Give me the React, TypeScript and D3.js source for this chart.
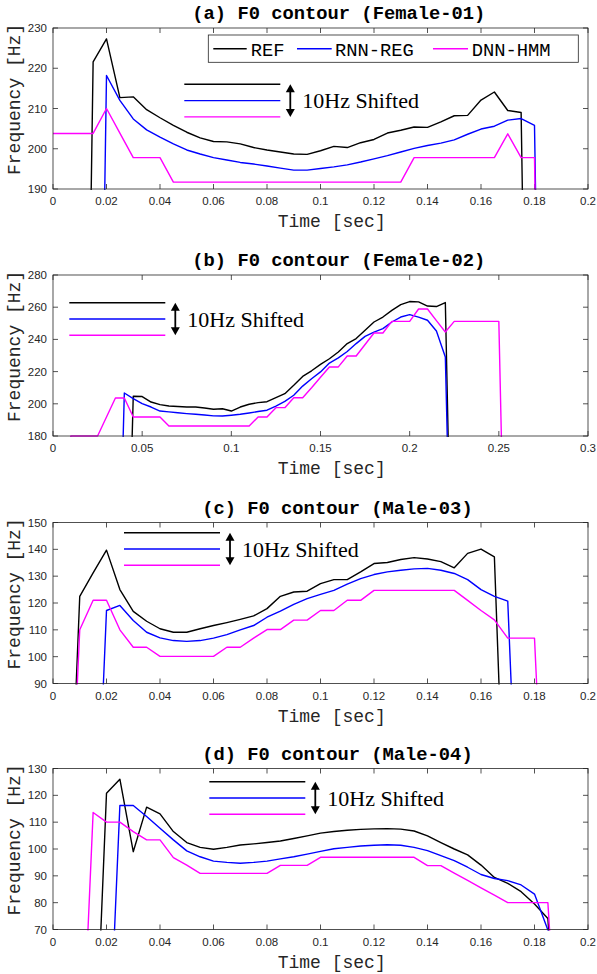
import React from 'react';
import * as d3 from 'd3';

// frame step (sec); unvoiced frames are stored as 0 and fall below the axes
const STEP = 0.005;

// (a) Female-01
const REF_A = [0, 0, 0, 221.6, 227.3, 212.7, 212.9, 209.7, 207.7, 205.8, 204.1, 202.7, 201.8, 201.7, 201.2, 200.3, 199.7, 199.2, 198.7, 198.6, 199.5, 200.6, 200.3, 201.5, 202.3, 203.9, 204.6, 205.4, 205.3, 206.7, 208.2, 208.3, 212.1, 214.1, 209.5, 209.0, 0, 0];
const RNN_A = [0, 0, 0, 0, 218.2, 212.0, 207.4, 204.7, 202.9, 201.2, 199.7, 198.7, 197.8, 197.2, 196.6, 196.2, 195.7, 195.2, 194.7, 194.7, 195.1, 195.5, 196.0, 196.7, 197.5, 198.3, 199.2, 200.1, 200.8, 201.4, 202.2, 203.6, 204.9, 205.6, 207.1, 207.5, 205.8, 0];
const DNN_A = [203.8, 203.8, 203.8, 203.8, 210.0, 203.9, 197.8, 197.8, 197.8, 191.7, 191.7, 191.7, 191.7, 191.7, 191.7, 191.7, 191.7, 191.7, 191.7, 191.7, 191.7, 191.7, 191.7, 191.7, 191.7, 191.7, 191.7, 197.8, 197.8, 197.8, 197.8, 197.8, 197.8, 197.8, 203.7, 197.8, 197.8, 0];

// (b) Female-02
const REF_B = [0, 0, 0, 0, 0, 0, 0, 0, 0, 204.7, 204.5, 201.1, 199.5, 198.6, 198.3, 198.0, 198.0, 197.4, 196.6, 196.9, 195.5, 198.0, 199.7, 200.7, 201.3, 203.8, 206.3, 211.5, 217.0, 220.5, 224.5, 228.0, 232.2, 237.4, 240.5, 245.7, 250.8, 253.9, 258.0, 261.6, 263.5, 263.3, 260.7, 260.4, 262.9, 0];
const RNN_B = [0, 0, 0, 0, 0, 0, 0, 0, 206.7, 203.2, 200.1, 198.0, 195.5, 195.0, 194.4, 193.9, 193.5, 193.0, 192.5, 192.4, 192.9, 193.5, 194.3, 195.2, 196.0, 198.6, 201.5, 205.3, 211.0, 215.6, 219.8, 225.3, 228.5, 232.5, 237.4, 241.9, 244.5, 246.7, 250.8, 253.9, 255.4, 253.8, 251.9, 245.2, 229.1, 0];
const DNN_B = [0, 0, 180, 180, 180, 180, 191.8, 203.6, 203.6, 191.8, 191.8, 191.8, 191.8, 186.2, 186.2, 186.2, 186.2, 186.2, 186.2, 186.2, 186.2, 186.2, 186.2, 191.8, 191.8, 197.6, 197.6, 203.8, 203.8, 210.0, 216.5, 222.9, 222.9, 229.7, 229.7, 236.8, 244.0, 244.0, 251.2, 251.2, 251.2, 258.9, 258.9, 251.7, 244.6, 251.2, 251.2, 251.2, 251.2, 251.2, 251.2, 0];

// (c) Male-03
const REF_C = [0, 0, 122.5, 131.2, 139.7, 125.0, 116.9, 113.2, 110.4, 109.1, 109.1, 110.4, 111.6, 112.7, 113.9, 115.2, 117.9, 122.5, 124.1, 124.4, 127.2, 128.7, 128.7, 131.6, 134.7, 135.1, 136.2, 136.9, 136.4, 135.4, 133.1, 138.5, 140.1, 137.2, 0];
const RNN_C = [0, 0, 0, 0, 117.2, 119.1, 113.5, 109.1, 107.0, 106.0, 105.7, 106.0, 106.9, 108.2, 110.0, 111.6, 114.7, 117.0, 119.5, 121.6, 123.2, 124.7, 127.0, 129.1, 130.6, 131.6, 132.2, 132.7, 132.9, 132.2, 131.0, 128.7, 125.0, 122.5, 120.7, 0];
const DNN_C = [0, 0, 110.0, 121.0, 121.0, 110.0, 103.5, 103.5, 100.1, 100.1, 100.1, 100.1, 100.1, 103.5, 103.5, 106.9, 110.1, 110.1, 113.6, 113.6, 117.2, 117.2, 121.0, 121.0, 124.7, 124.7, 124.7, 124.7, 124.7, 124.7, 124.7, 121.0, 117.2, 113.7, 106.9, 106.9, 106.9, 0];

// (d) Male-04
const REF_D = [0, 0, 0, 0, 120.8, 126.0, 99.0, 115.6, 113.1, 106.5, 102.4, 100.6, 99.9, 100.6, 101.5, 101.9, 102.4, 103.0, 103.9, 104.9, 105.9, 106.5, 107.0, 107.3, 107.5, 107.6, 107.4, 106.7, 104.9, 102.4, 100.0, 97.8, 94.0, 89.4, 87.2, 84.1, 79.5, 74.1, 0];
const RNN_D = [0, 0, 0, 0, 0, 116.2, 116.2, 112.1, 107.7, 103.4, 99.3, 97.1, 95.5, 95.0, 94.7, 95.0, 95.5, 96.3, 97.1, 98.1, 99.1, 100.1, 100.6, 101.1, 101.4, 101.6, 101.4, 100.6, 99.4, 97.5, 95.7, 93.2, 90.5, 89.0, 88.2, 86.6, 83.2, 69.8, 0];
const DNN_D = [0, 0, 0, 113.6, 110.0, 110.0, 106.5, 103.4, 103.4, 96.8, 94.0, 90.9, 90.9, 90.9, 90.9, 90.9, 90.9, 93.9, 93.9, 93.9, 96.9, 96.9, 96.9, 96.9, 96.9, 96.9, 96.9, 96.9, 93.8, 93.8, 91.0, 88.3, 85.5, 82.8, 80.0, 80.0, 80.0, 80.0, 0];

const X_TICKS_02 = [0, 0.02, 0.04, 0.06, 0.08, 0.1, 0.12, 0.14, 0.16, 0.18, 0.2];
const X_TICKS_03 = [0, 0.05, 0.1, 0.15, 0.2, 0.25, 0.3];
const Y_TICKS_A = [190, 200, 210, 220, 230];
const Y_TICKS_B = [180, 200, 220, 240, 260, 280];
const Y_TICKS_C = [90, 100, 110, 120, 130, 140, 150];
const Y_TICKS_D = [70, 80, 90, 100, 110, 120, 130];

const TITLES = ['(a) F0 contour (Female-01)', '(b) F0 contour (Female-02)', '(c) F0 contour (Male-03)', '(d) F0 contour (Male-04)'];
const SERIES_NAMES = ['REF', 'RNN-REG', 'DNN-HMM'];
const COLORS = ['#000000', '#0000ff', '#ff00ff'];
const X_LABEL = 'Time [sec]';
const Y_LABEL = 'Frequency [Hz]';
const SHIFT_NOTE = '10Hz Shifted';

const LEFT = 53;
const RIGHT = 588;
const H = 161;
const AX = '#262626';
const MONO = '"Liberation Mono", "Courier New", monospace';
const SANS = '"Liberation Sans", Helvetica, Arial, sans-serif';
const SERIF = '"Liberation Serif", "Times New Roman", serif';

const PANELS = [
  { top: 28, xTicks: X_TICKS_02, yTicks: Y_TICKS_A, series: [REF_A, RNN_A, DNN_A], title: TITLES[0], ann: { x1: 184.3, y0: 84.3 }, legend: true },
  { top: 275, xTicks: X_TICKS_03, yTicks: Y_TICKS_B, series: [REF_B, RNN_B, DNN_B], title: TITLES[1], ann: { x1: 69.3, y0: 302.7 }, legend: false },
  { top: 522.5, xTicks: X_TICKS_02, yTicks: Y_TICKS_C, series: [REF_C, RNN_C, DNN_C], title: TITLES[2], ann: { x1: 124, y0: 532.7 }, legend: false },
  { top: 768.5, xTicks: X_TICKS_02, yTicks: Y_TICKS_D, series: [REF_D, RNN_D, DNN_D], title: TITLES[3], ann: { x1: 209.3, y0: 781.7 }, legend: false },
];

const fmt = (v: number) => String(+v.toFixed(4));

function Panel({ p, idx }: { p: any; idx: number }) {
  const xs = p.xTicks as number[];
  const ys = p.yTicks as number[];
  const x = d3.scaleLinear().domain([xs[0], xs[xs.length - 1]]).range([LEFT, RIGHT]);
  const y = d3.scaleLinear().domain([ys[0], ys[ys.length - 1]]).range([p.top + H, p.top]);
  const bottom = p.top + H;
  const cy = p.top + H / 2;
  const clipId = `clip-${idx}`;
  const line = d3.line<number>().x((_, i) => x(i * STEP)).y((d) => y(d));
  const tl = 5;
  const a = p.ann;
  const x2 = a.x1 + 96;
  const ax = x2 + 10;
  const gap = 16.3;
  const ay0 = a.y0;
  const ay1 = a.y0 + 2 * gap;
  const hw = 4.5;
  const hh = 8;
  return (
    <g>
      <defs>
        <clipPath id={clipId}>
          <rect x={LEFT} y={p.top - 1} width={RIGHT - LEFT} height={H + 2} />
        </clipPath>
      </defs>
      {/* ticks */}
      {xs.map((t) => (
        <g key={'xt' + t}>
          <line x1={x(t)} x2={x(t)} y1={bottom} y2={bottom - tl} stroke={AX} strokeWidth={0.8} />
          <line x1={x(t)} x2={x(t)} y1={p.top} y2={p.top + tl} stroke={AX} strokeWidth={0.8} />
          <text x={x(t)} y={bottom + 16} textAnchor="middle" fontFamily={SANS} fontSize={11.5} fill={AX}>{fmt(t)}</text>
        </g>
      ))}
      {ys.map((v) => (
        <g key={'yt' + v}>
          <line x1={LEFT} x2={LEFT + tl} y1={y(v)} y2={y(v)} stroke={AX} strokeWidth={0.8} />
          <line x1={RIGHT} x2={RIGHT - tl} y1={y(v)} y2={y(v)} stroke={AX} strokeWidth={0.8} />
          <text x={LEFT - 6} y={y(v) + 4} textAnchor="end" fontFamily={SANS} fontSize={11.5} fill={AX}>{v}</text>
        </g>
      ))}
      {/* data */}
      <g clipPath={`url(#${clipId})`}>
        {(p.series as number[][]).map((s, k) => (
          <path key={k} d={line(s) || ''} fill="none" stroke={COLORS[k]} strokeWidth={1.4} strokeLinejoin="round" />
        ))}
      </g>
      {/* frame */}
      <rect x={LEFT} y={p.top} width={RIGHT - LEFT} height={H} fill="none" stroke={AX} strokeWidth={0.8} />
      {/* shift annotation */}
      {COLORS.map((c, k) => (
        <line key={'an' + k} x1={a.x1} x2={x2} y1={a.y0 + k * gap} y2={a.y0 + k * gap} stroke={c} strokeWidth={1.4} />
      ))}
      <line x1={ax} x2={ax} y1={ay0 + hh - 1} y2={ay1 - hh + 1} stroke="#000" strokeWidth={1.8} />
      <path d={`M${ax},${ay0} L${ax - hw},${ay0 + hh} L${ax + hw},${ay0 + hh} Z`} fill="#000" />
      <path d={`M${ax},${ay1} L${ax - hw},${ay1 - hh} L${ax + hw},${ay1 - hh} Z`} fill="#000" />
      <text x={ax + 12} y={a.y0 + gap + 7.5} fontFamily={SERIF} fontSize={22} fill="#000">{SHIFT_NOTE}</text>
      {/* titles and labels */}
      <text x={320.5 - p.title.length * 4.93} y={p.top - 9} fontFamily={MONO} fontWeight="bold" fontSize={18.8} fill="#000">{p.title}</text>
      <text x={277.7} y={bottom + 38} fontFamily={MONO} fontSize={18} fill={AX}>{X_LABEL}</text>
      <text transform={`translate(20,${cy + 66.5}) rotate(-90)`} fontFamily={MONO} fontSize={18} fill={AX}>{Y_LABEL}</text>
      {p.legend && (
        <g>
          <rect x={208.3} y={35} width={370} height={27.3} fill="#fff" stroke={AX} strokeWidth={0.8} />
          {[
            [213.3, 246.7, 250.7],
            [297, 331.7, 335],
            [433, 468, 471.7],
          ].map((pos, k) => (
            <g key={'lg' + k}>
              <line x1={pos[0]} x2={pos[1]} y1={48.7} y2={48.7} stroke={COLORS[k]} strokeWidth={1.4} />
              <text x={pos[2]} y={55.5} fontFamily={MONO} fontSize={18.8} fill="#000">{SERIES_NAMES[k]}</text>
            </g>
          ))}
        </g>
      )}
    </g>
  );
}

export default function App() {
  return (
    <svg width={597} height={974} viewBox="0 0 597 974" style={{ position: 'absolute', left: 0, top: 0, display: 'block', background: '#fff' }}>
      <rect x={0} y={0} width={597} height={974} fill="#fff" />
      {PANELS.map((p, i) => (
        <Panel key={i} p={p} idx={i} />
      ))}
    </svg>
  );
}
